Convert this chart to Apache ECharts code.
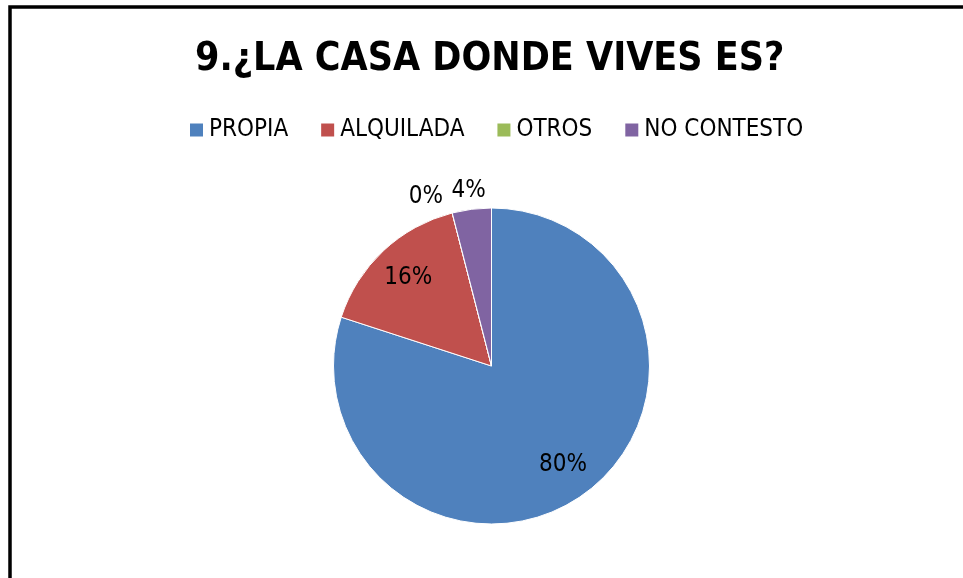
<!DOCTYPE html>
<html>
<head>
<meta charset="utf-8">
<script src="https://cdn.jsdelivr.net/npm/echarts@6/dist/echarts.min.js"></script>
<style>
  html,body{margin:0;padding:0;background:#fff;}
  #main{width:963px;height:578px;}
</style>
</head>
<body>
<div id="main"></div>
<script>
var titleText = '9.¿LA CASA DONDE VIVES ES?';
var categories = ['PROPIA', 'ALQUILADA', 'OTROS', 'NO CONTESTO'];
var values = [80, 16, 0, 4];
var colors = ['#4F81BD', '#C0504D', '#9BBB59', '#8064A2'];

var fontName = '"DejaVu Sans Condensed", "DejaVu Sans", sans-serif';
var smallLimit = 5; // slices below this get their label outside

var pieData = [];
for (var i = 0; i < categories.length; i++) {
  pieData.push({ name: categories[i], value: values[i], itemStyle: { color: colors[i] } });
}
var overlayData = [];
for (var i = 0; i < categories.length; i++) {
  overlayData.push({ name: categories[i], value: values[i] });
}

var myChart = echarts.init(document.getElementById('main'));
var option = {
  backgroundColor: '#fff',
  animation: false,
  graphic: [{
    type: 'rect',
    shape: { x: 10, y: 7, width: 1000, height: 1000 },
    style: { fill: 'none', stroke: '#000', lineWidth: 3.5 },
    silent: true
  }],
  title: {
    text: titleText,
    left: 190,
    top: 35,
    textStyle: { fontFamily: fontName, fontWeight: 'bold', fontSize: 39, color: '#000' }
  },
  legend: {
    data: categories,
    top: 113,
    left: 183,
    icon: 'rect',
    itemWidth: 15,
    itemHeight: 15,
    itemGap: 31,
    textStyle: { fontFamily: fontName, fontSize: 24, color: '#000' }
  },
  series: [
    {
      type: 'pie',
      center: [491.5, 366],
      radius: 158,
      startAngle: 90,
      clockwise: true,
      avoidLabelOverlap: false,
      itemStyle: { borderColor: '#fff', borderWidth: 1 },
      label: {
        show: true,
        position: 'outside',
        fontFamily: fontName,
        fontSize: 24,
        color: '#000',
        formatter: function (p) { return p.value < smallLimit ? p.value + '%' : ''; }
      },
      labelLine: { show: false, length: 17, length2: 0 },
      labelLayout: function (p) {
        if (p.dataIndex === 3) return { dx: p.labelRect.width / 2 + 4, dy: -2 };
        return {};
      },
      emphasis: { disabled: true },
      data: pieData
    },
    {
      type: 'pie',
      center: [491.5, 366],
      radius: [79, 158],
      startAngle: 90,
      clockwise: true,
      silent: true,
      itemStyle: { color: 'transparent', borderWidth: 0 },
      label: {
        show: true,
        position: 'inside',
        fontFamily: fontName,
        fontSize: 24,
        color: '#000',
        formatter: function (p) { return p.value >= smallLimit ? p.value + '%' : ''; }
      },
      labelLine: { show: false },
      emphasis: { disabled: true },
      data: overlayData
    }
  ]
};
myChart.setOption(option);
</script>
</body>
</html>
